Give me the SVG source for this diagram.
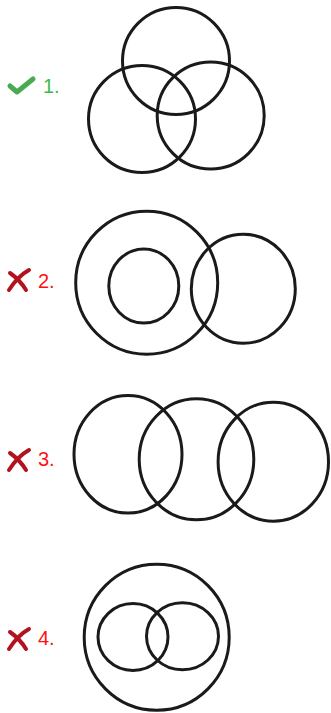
<svg xmlns="http://www.w3.org/2000/svg" width="331" height="713" viewBox="0 0 331 713">
<style>
.c{fill:none;stroke:#1a1a1a;stroke-width:3}
.lbl{font-family:"Liberation Sans",Arial,sans-serif;font-size:20px}
.ok{fill:#3dbb4a}
.no{fill:#ff1010}
.chk{fill:none;stroke:#4aaa52;stroke-width:5;stroke-linecap:round;stroke-linejoin:round}
.x{fill:none;stroke:#b3121f;stroke-width:4;stroke-linecap:round}
</style>
<rect width="331" height="713" fill="#ffffff"/>
<g id="option1">
<path class="chk" d="M10,86 L17,92 L33,79"/>
<text class="lbl ok" x="43" y="93">1.</text>
<ellipse class="c" cx="176" cy="61" rx="53.5" ry="53.5"/>
<ellipse class="c" cx="142" cy="119" rx="53.5" ry="53.5"/>
<ellipse class="c" cx="210.7" cy="115.5" rx="53.5" ry="53.5"/>
</g>
<g id="option2">
<path class="x" d="M29,270 Q18,276 9,290"/>
<path class="x" d="M10,273 Q20,280 26,290"/>
<text class="lbl no" x="38" y="288">2.</text>
<ellipse class="c" cx="146.7" cy="282.7" rx="71" ry="71.5"/>
<ellipse class="c" cx="143.8" cy="286" rx="35" ry="37"/>
<ellipse class="c" cx="243.3" cy="288.8" rx="52" ry="54.5"/>
</g>
<g id="option3">
<path class="x" d="M29,450 Q18,456 9,470"/>
<path class="x" d="M10,453 Q20,460 26,470"/>
<text class="lbl no" x="38" y="466">3.</text>
<ellipse class="c" cx="128" cy="454.3" rx="54" ry="58.8"/>
<ellipse class="c" cx="196.5" cy="459.3" rx="57.3" ry="60.5"/>
<ellipse class="c" cx="273.3" cy="461.7" rx="55.2" ry="59.5"/>
</g>
<g id="option4">
<path class="x" d="M29,629 Q18,635 9,649"/>
<path class="x" d="M10,632 Q20,639 26,649"/>
<text class="lbl no" x="38" y="645">4.</text>
<ellipse class="c" cx="156.7" cy="637.3" rx="72.5" ry="73"/>
<ellipse class="c" cx="133" cy="637" rx="35" ry="33.5"/>
<ellipse class="c" cx="182.5" cy="636.3" rx="36" ry="33.5"/>
</g>
<g id="connectors"/>
</svg>
